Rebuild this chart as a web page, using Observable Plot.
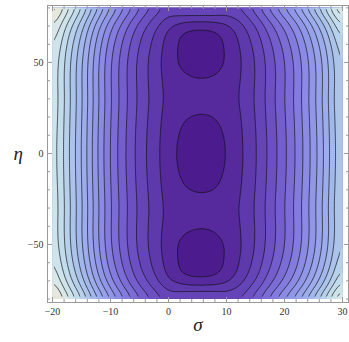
<!DOCTYPE html>
<html><head><meta charset="utf-8">
<script src="https://cdn.jsdelivr.net/npm/d3@7"></script>
<script src="https://cdn.jsdelivr.net/npm/@observablehq/plot@0.6"></script>
<style>
body{margin:0;background:#fff}
svg{display:block}
svg text{font-family:"Liberation Serif","Times New Roman",serif !important}
</style>
</head><body><div id="chart"></div>
<script>
// σ columns and the contour level read along η = 0
const sigma = [-20,-17.5,-15,-12.5,-10,-7.5,-5,-2.5,0,2.5,5,7.5,10,12.5,15,17.5,20,22.5,25,27.5,30];
const levelAtEtaZero = [16.4,13.9,11.5,8.8,6.4,4.57,3.03,1.92,0.85,0.2,0,0.06,0.48,1.35,2.38,3.8,5.26,6.96,8.95,11.2,13.8];
// share of the valley profile in each column (1 in the valley, ~0 at the sides)
const valleyWeight = [0.02,0.02,0.03,0.04,0.05,0.07,0.1,0.15,0.32,0.85,1,0.95,0.55,0.2,0.12,0.08,0.06,0.05,0.04,0.03,0.02];
// strength of the side profile in each column
const sideScale = [1,1,1,1,1,0.9,0.8,0.65,0.5,0.5,0.5,0.5,0.5,0.6,0.8,0.95,1.05,1.1,1.2,1.3,1.4];
// η rows
const eta = [-80,-75,-70,-65,-60,-55,-50,-45,-40,-35,-30,-25,-20,-15,-10,-5,0,5,10,15,20,25,30,35,40,45,50,55,60,65,70,75,80];
// level added along the valley (σ ≈ 5.6): wells at η ≈ 0 and ±55
const valleyProfile = [4.0,2.2,0.72,-0.02,-0.05,-0.04,0.03,0.32,0.55,0.75,0.8,0.62,0.42,0.25,0.12,0.03,0,0.03,0.12,0.25,0.42,0.62,0.8,0.75,0.55,0.32,0.03,-0.04,-0.05,-0.02,0.72,2.2,4.0];
// level added on the outer sides
const sideProfile = [3.2,2.2,1.45,0.95,0.6,0.35,0.2,0.12,0.1,0.12,0.14,0.12,0.08,0.05,0.02,0,0,0,0.02,0.05,0.08,0.12,0.14,0.12,0.1,0.12,0.2,0.35,0.6,0.95,1.45,2.2,3.2];

const lineLevels = [0.5,1.5,2.5,3.5,4.5,5.5,6.5,7.5,8.5,9.5,10.5,11.5,12.5,13.5,14.5,15.5,16.5,17.5,18.5,19.5];
const fillLevels = [-5,0.5,1.5,2.5,3.5,4.5,5.5,6.5,7.5,8.5,9.5,10.5,11.5,12.5,13.5,14.5,15.5,16.5,17.5,18.5,19.5];
const bandColors = ["#4c1c8e","#56299c","#5e39ac","#6544b8","#6c50c3","#745dcd","#7c6cd6","#847bde","#8b8ae4","#9197e8","#97a2eb","#9cacec","#a2b8eb","#acc4eb","#b7d1eb","#c3dceb","#cfe3eb","#dae7e8","#e6e8de","#eee6d4","#f2e4cd"];

const xTicks = [-20,-10,0,10,20,30];
const xMinorTicks = [-18,-16,-14,-12,-8,-6,-4,-2,2,4,6,8,12,14,16,18,22,24,26,28];
const yTicks = [-50,0,50];
const yMinorTicks = [-80,-70,-60,-40,-30,-20,-10,10,20,30,40,60,70,80];

const grid = [];
eta.forEach((e, i) => sigma.forEach((s, j) => {
  const w = valleyWeight[j];
  grid.push({x: s, y: e, v: levelAtEtaZero[j] + w * valleyProfile[i] + (1 - w) * sideScale[j] * sideProfile[i]});
}));

const ext = {x1: sigma[0], x2: sigma[sigma.length - 1], y1: eta[0], y2: eta[eta.length - 1]};
const font = "Liberation Serif, Times New Roman, serif";
const frameGray = "#999999";
const blank = () => "";
const ax = {stroke: frameGray, label: null, fontFamily: font};

const plot = Plot.plot({
  width: 349, height: 342,
  marginLeft: 47, marginRight: 1, marginTop: 5, marginBottom: 40,
  x: {domain: [-20.86, 31.03]},
  y: {domain: [-81.9, 81.3]},
  color: {type: "linear", domain: fillLevels, range: bandColors},
  style: {background: "white", fontFamily: font},
  marks: [
    Plot.contour(grid, {x: "x", y: "y", fill: "v", thresholds: fillLevels, interpolate: "barycentric", blur: 2, ...ext}),
    Plot.contour(grid, {x: "x", y: "y", value: "v", thresholds: lineLevels, interpolate: "barycentric", blur: 2, ...ext,
      fill: "none", stroke: "#111", strokeWidth: 0.85, strokeOpacity: 0.8}),
    Plot.frame({stroke: frameGray}),
    Plot.axisX(xTicks, {anchor: "bottom", tickSize: -5, tickPadding: 10, fill: "#333", fontSize: 10, ...ax}),
    Plot.axisX(xMinorTicks, {anchor: "bottom", tickSize: -3, tickFormat: blank, ...ax}),
    Plot.axisX(xTicks, {anchor: "top", tickSize: -5, tickFormat: blank, ...ax}),
    Plot.axisX(xMinorTicks, {anchor: "top", tickSize: -3, tickFormat: blank, ...ax}),
    Plot.axisY(yTicks, {anchor: "left", tickSize: -5, tickPadding: 9, fill: "#333", fontSize: 10, ...ax}),
    Plot.axisY(yMinorTicks, {anchor: "left", tickSize: -3, tickFormat: blank, ...ax}),
    Plot.axisY(yTicks, {anchor: "right", tickSize: -5, tickFormat: blank, ...ax}),
    Plot.axisY(yMinorTicks, {anchor: "right", tickSize: -3, tickFormat: blank, ...ax}),
    Plot.text(["σ"], {frameAnchor: "bottom", dy: 28, fontSize: 19, fontStyle: "italic", fill: "#222", fontFamily: font}),
    Plot.text(["η"], {frameAnchor: "left", dx: -34, fontSize: 19, fontStyle: "italic", fill: "#222", fontFamily: font})
  ]
});

// clip the contour lines to the data rectangle so the raster border is not stroked
(function () {
  const ns = "http://www.w3.org/2000/svg";
  const xs = plot.scale("x"), ys = plot.scale("y");
  const left = xs.apply(ext.x1) + 2, right = xs.apply(ext.x2) - 2;
  const top = ys.apply(ext.y2) + 2, bottom = ys.apply(ext.y1) - 2;
  const defs = document.createElementNS(ns, "defs");
  const cp = document.createElementNS(ns, "clipPath");
  cp.setAttribute("id", "dataclip");
  const r = document.createElementNS(ns, "rect");
  r.setAttribute("x", left); r.setAttribute("y", top);
  r.setAttribute("width", right - left); r.setAttribute("height", bottom - top);
  cp.appendChild(r); defs.appendChild(cp); plot.insertBefore(defs, plot.firstChild);
  const groups = plot.querySelectorAll('g[aria-label="contour"]');
  if (groups.length > 1) {
    const g = groups[1];
    const wrap = document.createElementNS(ns, "g");
    wrap.setAttribute("clip-path", "url(#dataclip)");
    g.parentNode.insertBefore(wrap, g);
    wrap.appendChild(g);
  }
})();

document.getElementById("chart").appendChild(plot);
</script>
</body></html>
